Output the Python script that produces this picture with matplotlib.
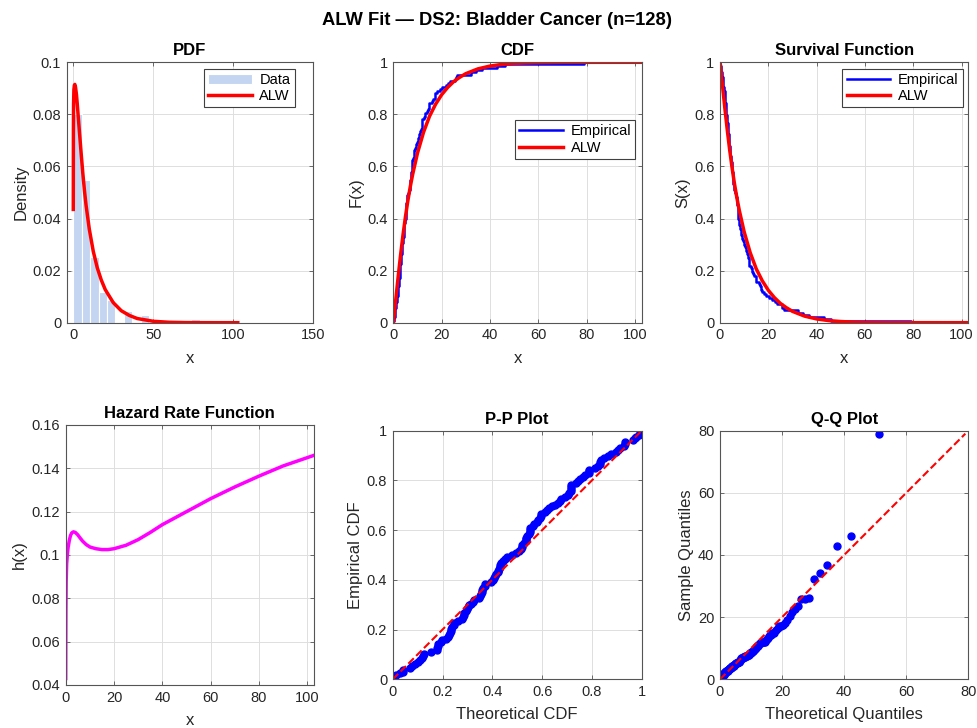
import numpy as np
import matplotlib
matplotlib.use('Agg')
import matplotlib.pyplot as plt
from matplotlib.ticker import FuncFormatter

plt.rcParams['font.family'] = ['Liberation Sans', 'DejaVu Sans']

# bladder cancer remission times (n=128)
remission = [0.08, 2.09, 3.48, 4.87, 6.94, 8.66, 13.11, 23.63, 0.20, 2.23, 3.52, 4.98, 6.97, 9.02,
             13.29, 0.40, 2.26, 3.57, 5.06, 7.09, 9.22, 13.80, 25.74, 0.50, 2.46, 3.64, 5.09, 7.26,
             9.47, 14.24, 25.82, 0.51, 2.54, 3.70, 5.17, 7.28, 9.74, 14.76, 26.31, 0.81, 2.62, 3.82,
             5.32, 7.32, 10.06, 14.77, 32.15, 2.64, 3.88, 5.32, 7.39, 10.34, 14.83, 34.26, 0.90,
             2.69, 4.18, 5.34, 7.59, 10.66, 15.96, 36.66, 1.05, 2.69, 4.23, 5.41, 7.62, 10.75,
             16.62, 43.01, 1.19, 2.75, 4.26, 5.41, 7.63, 17.12, 46.12, 1.26, 2.83, 4.33, 5.49,
             7.66, 11.25, 17.14, 79.05, 1.35, 2.87, 5.62, 7.87, 11.64, 17.36, 1.40, 3.02, 4.34,
             5.71, 7.93, 11.79, 18.10, 1.46, 4.40, 5.85, 8.26, 11.98, 19.13, 1.76, 3.25, 4.50,
             6.25, 8.37, 12.02, 2.02, 3.31, 4.51, 6.54, 8.53, 12.03, 20.28, 2.02, 3.36, 6.76,
             12.07, 21.73, 2.07, 3.36, 6.93, 8.65, 12.63, 22.69]

# fitted ALW curves
pdf_x = [0.01, 0.1, 0.2, 0.4, 0.7, 1.0, 1.4, 2.0, 2.5, 3.0, 4.0, 5.0, 6.0, 7.0, 8.0, 10, 12.5,
         15, 17.5, 20, 25, 30, 35, 40, 50, 60, 70, 80, 90, 102.8]
pdf_y = [0.0435, 0.074, 0.084, 0.0895, 0.0912, 0.0915, 0.0905, 0.0876, 0.0840, 0.0800, 0.0722,
         0.0645, 0.0572, 0.0507, 0.0451, 0.0360, 0.0274, 0.0211, 0.0164, 0.0127, 0.0077,
         0.0046, 0.0028, 0.0016, 0.00054, 0.00016, 0.00005, 0.000013, 0.000003, 0.0000005]

cdf_x = [0.01, 0.2, 0.5, 1, 2, 3, 4, 5, 6, 7, 8, 10, 12.5, 15, 17.5, 20, 22.5, 25, 27.5, 30,
         35, 40, 45, 50, 55, 60, 70, 80, 102.8]
cdf_y = [0.0004, 0.012, 0.040, 0.086, 0.175, 0.259, 0.336, 0.405, 0.467, 0.521, 0.569, 0.651,
         0.731, 0.793, 0.839, 0.8755, 0.9035, 0.926, 0.9425, 0.9564, 0.9747, 0.9855, 0.99194,
         0.99554, 0.99757, 0.9987, 0.99964, 0.9999, 0.999996]

hz_x = [0.01, 0.05, 0.1, 0.2, 0.4, 0.7, 1.0, 1.5, 2.0, 2.5, 3.2, 4.0, 5.0, 6.0, 7.0, 8.5, 10,
        12.5, 15, 17.5, 20, 25, 30, 35, 40, 50, 60, 70, 80, 90, 102.8]
hz_y = [0.043, 0.062, 0.075, 0.088, 0.096, 0.1005, 0.1035, 0.1068, 0.1090, 0.1102, 0.1107,
        0.1104, 0.1093, 0.1078, 0.1064, 0.1048, 0.1037, 0.1029, 0.1025, 0.1025, 0.1029,
        0.1045, 0.1071, 0.1104, 0.1140, 0.1200, 0.1260, 0.1314, 0.1364, 0.1411, 0.1460]

data = np.sort(np.array(remission))
n = len(data)
x_max = 102.8
n_bins = 15

TXT = '#262626'
BOX = '#555555'
fmt = FuncFormatter(lambda v, p: f'{v:g}')


def style(ax, title, xlabel, ylabel):
    ax.set_title(title, fontsize=12, fontweight='bold', color='black', pad=5)
    ax.set_xlabel(xlabel, fontsize=12, color=TXT, labelpad=6)
    ax.set_ylabel(ylabel, fontsize=12, color=TXT, labelpad=3)
    ax.grid(True, color='#dedede', linewidth=0.7)
    ax.set_axisbelow(True)
    ax.tick_params(direction='in', top=True, right=True, length=3, width=0.6,
                   labelsize=10.5, colors=BOX, labelcolor=TXT, pad=4)
    ax.xaxis.set_major_formatter(fmt)
    ax.yaxis.set_major_formatter(fmt)
    for s in ax.spines.values():
        s.set_color(BOX)
        s.set_linewidth(0.8)


def legend(ax, **kw):
    leg = ax.legend(fontsize=10.5, fancybox=False, framealpha=1, edgecolor='#404040',
                    handlelength=3.0, borderpad=0.3, labelspacing=0.15, handletextpad=0.5,
                    borderaxespad=0, **kw)
    leg.get_frame().set_linewidth(0.8)


W, H = 977, 728
fig = plt.figure(figsize=(W / 100, H / 100), dpi=100)


def px_axes(l, r, t, b):
    return fig.add_axes([l / W, 1 - b / H, (r - l) / W, (b - t) / H])


fig.suptitle('ALW Fit \u2014 DS2: Bladder Cancer (n=128)', fontsize=13.2, fontweight='bold',
             x=0.509, y=0.984, va='top')

# PDF
ax1 = px_axes(66.7, 313.3, 62.3, 322.7)
ax1.hist(data, bins=np.linspace(0, data.max(), n_bins + 1), density=True, color='#c3d5f1',
         edgecolor='white', linewidth=0.8, label='Data')
ax1.plot(pdf_x, pdf_y, color='red', lw=2.5, label='ALW')
ax1.set_xlim(-4.1, 150)
ax1.set_ylim(0, 0.1)
ax1.set_xticks([0, 50, 100, 150])
ax1.set_yticks(np.arange(0, 0.101, 0.02))
style(ax1, 'PDF', 'x', 'Density')
legend(ax1, loc='upper right', bbox_to_anchor=(0.925, 0.976))

# CDF
ax2 = px_axes(393.3, 641.7, 62.3, 322.7)
ecdf = np.arange(1, n + 1) / n
ax2.step(np.r_[data[0], data], np.r_[0, ecdf], where='post', color='blue', lw=1.8,
         label='Empirical')
ax2.plot(cdf_x, cdf_y, color='red', lw=2.5, label='ALW')
ax2.set_xlim(0, x_max)
ax2.set_ylim(0, 1)
ax2.set_xticks(np.arange(0, 101, 20))
ax2.set_yticks(np.arange(0, 1.01, 0.2))
style(ax2, 'CDF', 'x', 'F(x)')
legend(ax2, loc='upper right', bbox_to_anchor=(0.975, 0.778))

# Survival
ax3 = px_axes(720, 968.3, 62.3, 322.7)
ax3.step(np.r_[data[0], data], np.r_[1, 1 - ecdf], where='post', color='blue', lw=1.8,
         label='Empirical')
ax3.plot(cdf_x, 1 - np.array(cdf_y), color='red', lw=2.5, label='ALW')
ax3.set_xlim(0, x_max)
ax3.set_ylim(0, 1)
ax3.set_xticks(np.arange(0, 101, 20))
ax3.set_yticks(np.arange(0, 1.01, 0.2))
style(ax3, 'Survival Function', 'x', 'S(x)')
legend(ax3, loc='upper right', bbox_to_anchor=(0.977, 0.976))

# Hazard
ax4 = px_axes(65.7, 314, 425, 685)
ax4.plot(hz_x, hz_y, color='magenta', lw=2.5)
ax4.set_xlim(0, x_max)
ax4.set_ylim(0.04, 0.16)
ax4.set_xticks(np.arange(0, 101, 20))
ax4.set_yticks(np.arange(0.04, 0.161, 0.02))
style(ax4, 'Hazard Rate Function', 'x', 'h(x)')

# P-P
ax5 = px_axes(392.7, 641.7, 430.7, 679.3)
theo_p = np.interp(data, cdf_x, cdf_y)
ax5.plot(theo_p, ecdf, 'o', color='blue', ms=5, mec='blue')
ax5.plot([0, 1], [0, 1], '--', color='red', lw=1.5)
ax5.set_xlim(0, 1)
ax5.set_ylim(0, 1)
ax5.set_xticks(np.arange(0, 1.01, 0.2))
ax5.set_yticks(np.arange(0, 1.01, 0.2))
style(ax5, 'P-P Plot', 'Theoretical CDF', 'Empirical CDF')

# Q-Q
ax6 = px_axes(720, 968.3, 430.7, 679.3)
pp = (np.arange(1, n + 1) - 0.5) / n
theo_q = np.interp(pp, cdf_y, cdf_x)
ax6.plot(theo_q, data, 'o', color='blue', ms=5, mec='blue')
ax6.plot([0, data[-1]], [0, data[-1]], '--', color='red', lw=1.5)
ax6.set_xlim(0, 80)
ax6.set_ylim(0, 80)
ax6.set_xticks(np.arange(0, 81, 20))
ax6.set_yticks(np.arange(0, 81, 20))
style(ax6, 'Q-Q Plot', 'Theoretical Quantiles', 'Sample Quantiles')

fig.savefig('out.png', dpi=100)
